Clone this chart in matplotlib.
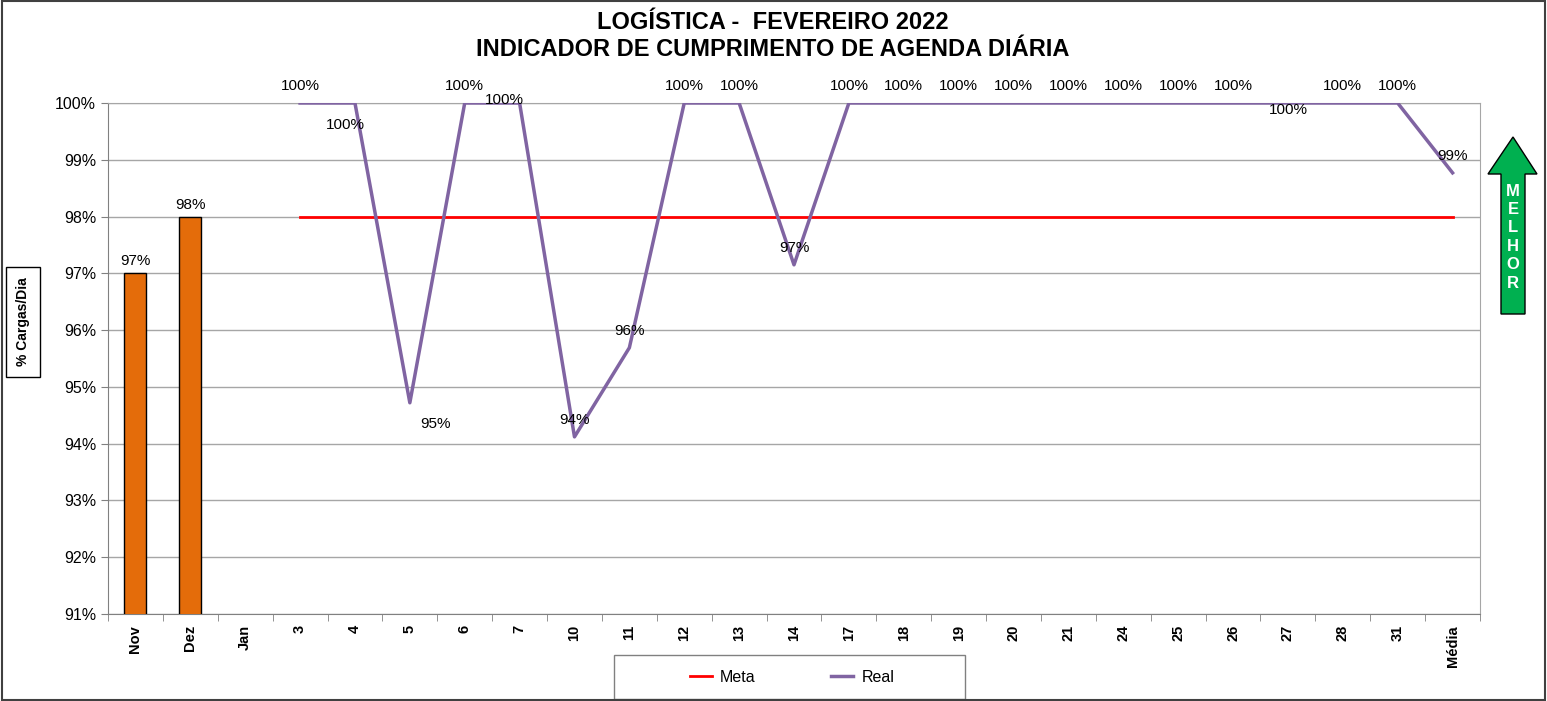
import numpy as np
import matplotlib.pyplot as plt
from matplotlib.patches import Polygon, Rectangle
from matplotlib.lines import Line2D

plt.rcParams['font.family'] = ['Liberation Sans', 'DejaVu Sans']

# ---------------- dados ----------------
categorias = ["Nov", "Dez", "Jan", "3", "4", "5", "6", "7", "10", "11", "12", "13",
              "14", "17", "18", "19", "20", "21", "24", "25", "26", "27", "28", "31", "Média"]
meses = [97, 98, np.nan] + [np.nan] * 22
meta = [np.nan] * 3 + [98] * 22
real = [np.nan, np.nan, np.nan,
        100, 100, 94.72, 100, 100, 94.12, 95.69, 100, 100, 97.15,
        100, 100, 100, 100, 100, 100, 100, 100, 100, 100, 100, 98.77]
rotulos_real = ["", "", "", "100%", "100%", "95%", "100%", "100%", "94%", "96%",
                "100%", "100%", "97%", "100%", "100%", "100%", "100%", "100%", "100%",
                "100%", "100%", "100%", "100%", "100%", "99%"]

# deslocamento dos rótulos (pixels) - posicao automatica do excel
desloc = {4: (-10, -22), 5: (26, -21), 7: (-15, 3), 21: (0, -7)}

W, H = 1547, 701
fig = plt.figure(figsize=(W / 100, H / 100), dpi=100)
ax = fig.add_axes([108 / W, 1 - 614 / H, (1480 - 108) / W, (614 - 103) / H])

x = np.arange(len(categorias))

ax.bar(x, meses, width=0.4, color='#E46C0A', edgecolor='black', linewidth=1, zorder=3)
for i, v in enumerate(meses):
    if not np.isnan(v):
        ax.annotate(f"{v:.0f}%", (x[i], v), xytext=(0, 5), textcoords='offset pixels',
                    ha='center', va='bottom', fontsize=11)

ax.plot(x, meta, color='#FF0000', linewidth=2, zorder=4, label='Meta')
ax.plot(x, real, color='#8064A2', linewidth=2.5, zorder=5, label='Real')

for i, v in enumerate(real):
    if np.isnan(v):
        continue
    dx, dy = desloc.get(i, (0, 17))
    ax.annotate(rotulos_real[i], (x[i], v), xytext=(dx, dy), textcoords='offset pixels',
                ha='center', va='center', fontsize=11, zorder=6)

ax.set_ylim(91, 100)
ax.set_xlim(-0.5, len(categorias) - 0.5)
ax.set_yticks(range(91, 101))
ax.set_yticklabels([f"{t}%" for t in range(91, 101)], fontsize=11.5)
ax.set_xticks(x)
ax.set_xticklabels(categorias, rotation=90, fontweight='bold', fontsize=10.5)
ax.set_xticks(np.arange(-0.5, len(categorias)), minor=True)
ax.tick_params(axis='x', which='major', length=0, pad=8)
ax.tick_params(axis='x', which='minor', length=5, color='#808080')
ax.tick_params(axis='y', length=5, color='#808080')
ax.grid(axis='y', color='#A6A6A6', linewidth=1, zorder=0)
ax.set_axisbelow(True)
for s in ax.spines.values():
    s.set_color('#A6A6A6')
ax.spines['left'].set_color('#808080')
ax.spines['bottom'].set_color('#808080')

fig.text(773 / W, 1 - 36 / H, "LOGÍSTICA -  FEVEREIRO 2022\nINDICADOR DE CUMPRIMENTO DE AGENDA DIÁRIA",
         ha='center', va='center', fontsize=17, fontweight='bold', linespacing=1.2)

fig.text(23 / W, 1 - 322 / H, "% Cargas/Dia", rotation=90, ha='center', va='center',
         fontsize=10, fontweight='bold',
         bbox=dict(boxstyle='square,pad=0.75', facecolor='white', edgecolor='black', linewidth=1))

# legenda
leg_box = Rectangle((614 / W, 1 - 699 / H), (965 - 614) / W, (699 - 655) / H,
                    transform=fig.transFigure, facecolor='white', edgecolor='#808080', linewidth=1)
fig.patches.append(leg_box)
fig.legend(handles=[Line2D([], [], color='#FF0000', linewidth=2, label='Meta'),
                    Line2D([], [], color='#8064A2', linewidth=2.5, label='Real')],
           loc='center', bbox_to_anchor=(792 / W, 1 - 677 / H), ncol=2, frameon=False,
           fontsize=11.5, handlelength=1.4, columnspacing=4.7, handletextpad=0.5)

# seta MELHOR
pts = [(1513, 137), (1537, 174), (1525, 174), (1525, 314), (1501, 314), (1501, 174), (1488, 174)]
seta = Polygon([(px / W, 1 - py / H) for px, py in pts], closed=True, transform=fig.transFigure,
               facecolor='#00B050', edgecolor='black', linewidth=1)
fig.patches.append(seta)
for k, letra in enumerate("MELHOR"):
    fig.text(1513 / W, 1 - (191 + k * 18.4) / H, letra, ha='center', va='center',
             color='white', fontsize=12, fontweight='bold')

# borda externa
fig.patches.append(Rectangle((0.001, 0.001), 0.998, 0.997, transform=fig.transFigure,
                             facecolor='none', edgecolor='#404040', linewidth=1.5))

fig.savefig("out.png", dpi=100)
